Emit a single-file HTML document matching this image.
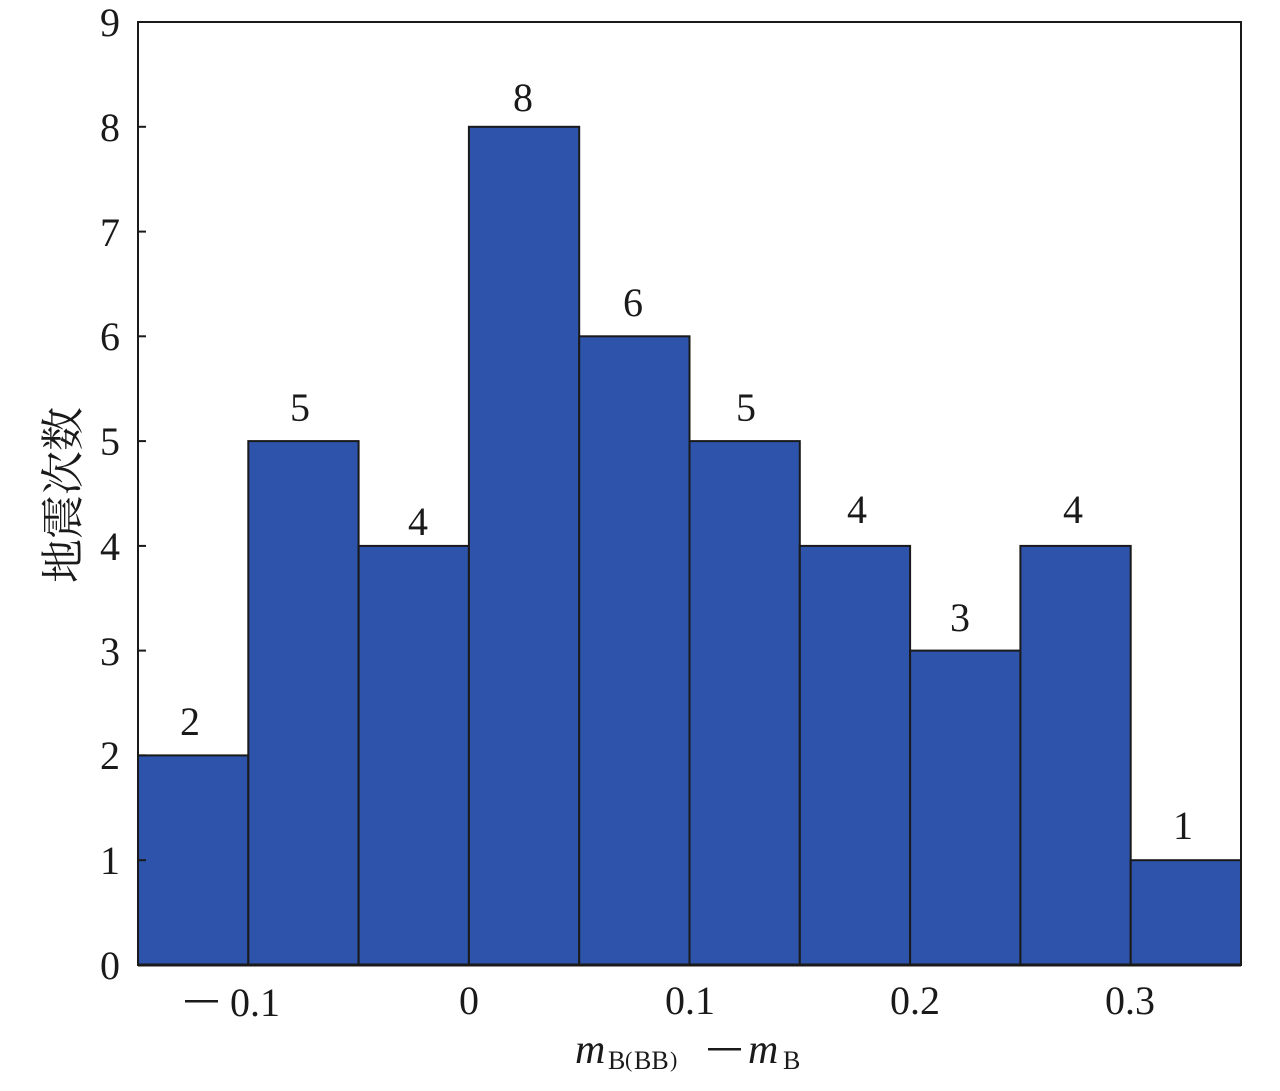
<!DOCTYPE html>
<html><head><meta charset="utf-8"><style>html,body{margin:0;padding:0;background:#fff}
svg text{font-family:"Liberation Serif","Times New Roman",serif}
svg text.cjk{font-family:"Liberation Serif","Noto Serif CJK SC","Noto Sans CJK SC",serif}
</style></head>
<body>
<svg width="1280" height="1086" viewBox="0 0 1280 1086" xmlns="http://www.w3.org/2000/svg" fill="#1a1a1a">
<g fill="#2d53aa" stroke="#1a1a1a" stroke-width="2">
<rect x="138" y="755.4" width="110.3" height="209.6"/>
<rect x="248.3" y="441.1" width="110.3" height="523.9"/>
<rect x="358.6" y="545.9" width="110.3" height="419.1"/>
<rect x="468.9" y="126.8" width="110.3" height="838.2"/>
<rect x="579.2" y="336.3" width="110.3" height="628.7"/>
<rect x="689.5" y="441.1" width="110.3" height="523.9"/>
<rect x="799.8" y="545.9" width="110.3" height="419.1"/>
<rect x="910.1" y="650.6" width="110.3" height="314.4"/>
<rect x="1020.4" y="545.9" width="110.3" height="419.1"/>
<rect x="1130.7" y="860.2" width="110.3" height="104.8"/>
</g>
<rect x="138" y="22" width="1103" height="943" fill="none" stroke="#1a1a1a" stroke-width="2"/>
<line x1="138" y1="965" x2="1241" y2="965" stroke="#1a1a1a" stroke-width="3"/>
<g stroke="#1a1a1a" stroke-width="2">
<line x1="138" y1="860.2" x2="146" y2="860.2"/><line x1="138" y1="755.4" x2="146" y2="755.4"/>
<line x1="138" y1="650.6" x2="146" y2="650.6"/><line x1="138" y1="545.9" x2="146" y2="545.9"/>
<line x1="138" y1="441.1" x2="146" y2="441.1"/><line x1="138" y1="336.3" x2="146" y2="336.3"/>
<line x1="138" y1="231.6" x2="146" y2="231.6"/><line x1="138" y1="126.8" x2="146" y2="126.8"/>
</g>
<g font-size="40" text-anchor="end">
<text x="120" y="979">0</text><text x="120" y="874">1</text><text x="120" y="769">2</text>
<text x="120" y="665">3</text><text x="120" y="560">4</text><text x="120" y="455">5</text>
<text x="120" y="350">6</text><text x="120" y="246">7</text><text x="120" y="141">8</text><text x="120" y="36">9</text>
</g>
<rect x="185" y="1000" width="33" height="2.5" fill="#1a1a1a"/>
<g font-size="40" text-anchor="middle">
<text x="255" y="1016">0.1</text><text x="469" y="1014">0</text>
<text x="690" y="1014">0.1</text><text x="915" y="1014">0.2</text><text x="1130" y="1014">0.3</text>
<text x="190" y="735">2</text><text x="300" y="421">5</text><text x="418" y="535">4</text>
<text x="523" y="111">8</text><text x="633" y="316">6</text><text x="746" y="421">5</text>
<text x="857" y="523">4</text><text x="960" y="631">3</text><text x="1073" y="523">4</text><text x="1183" y="839">1</text>
</g>
<text x="575" y="1063" font-size="42" font-style="italic">m</text>
<text x="608" y="1069" font-size="26">B</text>
<text x="625" y="1067" font-size="22">(</text>
<text x="634" y="1069" font-size="26">BB</text>
<text x="670" y="1067" font-size="22">)</text>
<rect x="708" y="1048" width="33" height="2.5" fill="#1a1a1a"/>
<text x="748" y="1063" font-size="42" font-style="italic">m</text>
<text x="783" y="1069" font-size="26">B</text>
<text class="cjk" transform="translate(78,495) rotate(-90)" font-size="44" text-anchor="middle">地震次数</text>
</svg>
</body></html>
